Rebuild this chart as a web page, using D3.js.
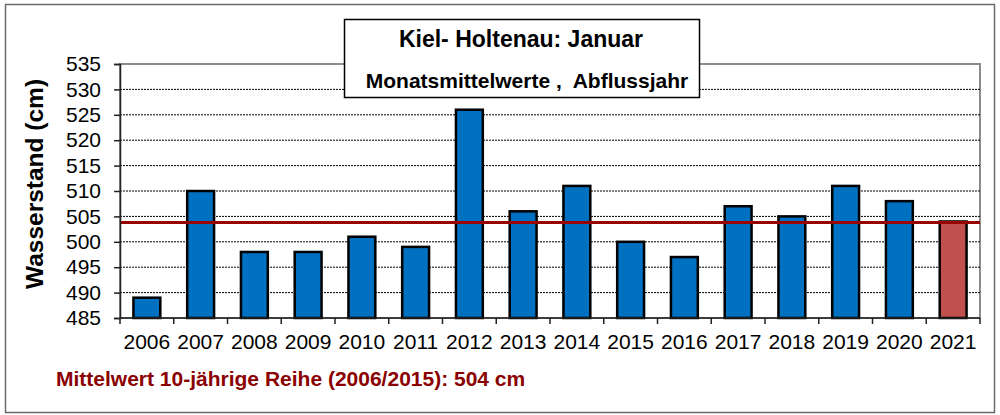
<!DOCTYPE html>
<html>
<head>
<meta charset="utf-8">
<script src="https://cdn.jsdelivr.net/npm/d3@7"></script>
<style>
  body { margin: 0; background: #fff; }
  svg { font-family: "Liberation Sans", Arial, sans-serif; }
</style>
</head>
<body>
<svg id="chart" width="1000" height="415"></svg>
<script>
// data
const years = ["2006", "2007", "2008", "2009", "2010", "2011", "2012", "2013",
               "2014", "2015", "2016", "2017", "2018", "2019", "2020", "2021"];
const levels = [489, 510, 498, 498, 501, 499, 526, 506, 511, 500, 497, 507, 505, 511, 508, 504];
const meanLevel = 503.8;
const yTicks = [485, 490, 495, 500, 505, 510, 515, 520, 525, 530, 535];
const title = "Kiel- Holtenau: Januar";
const subtitle = "Monatsmittelwerte ,  Abflussjahr";
const yLabel = "Wasserstand (cm)";
const footnote = "Mittelwert 10-jährige Reihe (2006/2015): 504 cm";

const margin = { top: 64, right: 20, bottom: 97, left: 120 };
const width = 1000 - margin.left - margin.right;
const height = 415 - margin.top - margin.bottom;

const svg = d3.select("#chart");

// outer frame
svg.append("rect")
  .attr("x", 5.5).attr("y", 4.5)
  .attr("width", 989).attr("height", 408)
  .attr("fill", "#fff")
  .attr("stroke", "#6b6b6b")
  .attr("stroke-width", 1.5);

const g = svg.append("g")
  .attr("transform", `translate(${margin.left},${margin.top})`);

const x = d3.scaleBand()
  .domain(years)
  .range([0, width])
  .paddingInner(0.5)
  .paddingOuter(0.25);

const y = d3.scaleLinear()
  .domain([485, 535])
  .range([height, 0]);

// plot border (top/right grey)
g.append("rect")
  .attr("x", 0).attr("y", 0)
  .attr("width", width).attr("height", height)
  .attr("fill", "none")
  .attr("stroke", "#8c8c8c")
  .attr("stroke-width", 2);

// dotted grid
g.selectAll(".grid")
  .data(yTicks.filter(d => d > 485 && d < 535))
  .enter()
  .append("line")
  .attr("class", "grid")
  .attr("x1", 0).attr("x2", width)
  .attr("y1", d => y(d)).attr("y2", d => y(d))
  .attr("stroke", "#000")
  .attr("stroke-width", 1)
  .attr("stroke-dasharray", "2,1");

// bars
g.selectAll(".bar")
  .data(years)
  .enter()
  .append("rect")
  .attr("class", "bar")
  .attr("x", d => x(d))
  .attr("y", (d, i) => y(levels[i]))
  .attr("width", x.bandwidth())
  .attr("height", (d, i) => height - y(levels[i]))
  .attr("fill", (d, i) => i === years.length - 1 ? "#c0504d" : "#0070c0")
  .attr("stroke", "#000")
  .attr("stroke-width", 2.5);

// mean line
g.append("line")
  .attr("x1", 0).attr("x2", width)
  .attr("y1", y(meanLevel)).attr("y2", y(meanLevel))
  .attr("stroke", "#990000")
  .attr("stroke-width", 3);

// y axis
const yAxis = g.append("g")
  .call(d3.axisLeft(y).tickValues(yTicks).tickSize(6).tickPadding(13));
yAxis.select(".domain").attr("stroke", "#222").attr("stroke-width", 1.5);
yAxis.selectAll(".tick line").attr("stroke", "#222").attr("stroke-width", 1.5);
yAxis.selectAll("text")
  .style("font-size", "21px")
  .attr("fill", "#000");

// x axis: ticks between categories
const xAxis = g.append("g")
  .attr("transform", `translate(0,${height})`);
xAxis.append("line")
  .attr("x1", 0).attr("x2", width)
  .attr("stroke", "#222").attr("stroke-width", 1.5);
xAxis.selectAll(".sep")
  .data(years.concat(["end"]))
  .enter()
  .append("line")
  .attr("class", "sep")
  .attr("x1", (d, i) => i * x.step()).attr("x2", (d, i) => i * x.step())
  .attr("y1", 0).attr("y2", 6)
  .attr("stroke", "#222").attr("stroke-width", 1.5);
xAxis.selectAll(".lbl")
  .data(years)
  .enter()
  .append("text")
  .attr("class", "lbl")
  .attr("x", d => x(d) + x.bandwidth() / 2)
  .attr("y", 31)
  .attr("text-anchor", "middle")
  .style("font-size", "21px")
  .text(d => d);

// y label
svg.append("text")
  .attr("transform", "translate(43,184) rotate(-90)")
  .attr("text-anchor", "middle")
  .style("font-size", "24.5px")
  .style("font-weight", "bold")
  .text(yLabel);

// title box
svg.append("rect")
  .attr("x", 344.5).attr("y", 19.5)
  .attr("width", 355).attr("height", 78)
  .attr("fill", "#fff")
  .attr("stroke", "#000")
  .attr("stroke-width", 1.5);
svg.append("text")
  .attr("x", 521).attr("y", 47)
  .attr("text-anchor", "middle")
  .style("font-size", "23px")
  .style("font-weight", "bold")
  .text(title);
svg.append("text")
  .attr("x", 527).attr("y", 88)
  .attr("text-anchor", "middle")
  .style("font-size", "21px")
  .style("font-weight", "bold")
  .style("white-space", "pre")
  .attr("xml:space", "preserve")
  .text(subtitle);

// footnote
svg.append("text")
  .attr("x", 56).attr("y", 386)
  .style("font-size", "21px")
  .style("font-weight", "bold")
  .attr("fill", "#8b0000")
  .text(footnote);
</script>
</body>
</html>
